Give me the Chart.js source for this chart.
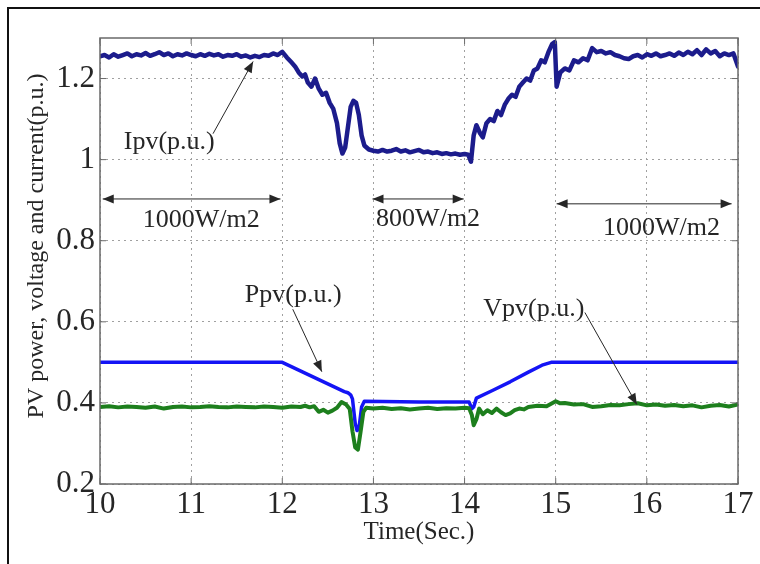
<!DOCTYPE html>
<html><head><meta charset="utf-8">
<script src="https://cdn.jsdelivr.net/npm/chart.js@4"></script>
<style>html,body{margin:0;padding:0;background:#fff}</style>
</head><body>
<canvas id="c" width="760" height="564"></canvas>
<script>
const xTicks = [10,11,12,13,14,15,16,17];
const yTicks = [0.2,0.4,0.6,0.8,1,1.2];

const ipvTime = [10.00,10.05,10.10,10.15,10.20,10.25,10.30,10.35,10.40,10.45,10.50,10.55,10.60,10.65,10.70,10.75,10.80,10.85,10.90,10.95,
 11.00,11.05,11.10,11.15,11.20,11.25,11.30,11.35,11.40,11.45,11.50,11.55,11.60,11.65,11.70,11.75,11.80,11.85,11.90,11.95,
 12.00,12.05,12.10,12.14,12.18,12.22,12.25,12.28,12.32,12.36,12.40,12.44,12.48,12.52,12.56,12.60,12.63,12.66,12.69,12.72,12.75,12.78,12.81,12.84,12.87,12.90,12.95,
 13.00,13.05,13.10,13.15,13.20,13.25,13.30,13.35,13.40,13.45,13.50,13.55,13.60,13.65,13.70,13.75,13.80,13.85,13.90,13.95,
 14.00,14.04,14.07,14.10,14.13,14.17,14.20,14.24,14.28,14.32,14.36,14.40,14.44,14.48,14.52,14.56,14.60,14.64,14.68,14.72,14.76,14.80,14.84,14.88,14.92,14.96,14.99,
 15.01,15.05,15.10,15.15,15.20,15.25,15.30,15.35,15.40,15.45,15.50,15.55,15.60,15.65,15.70,15.75,15.80,15.85,15.90,15.95,
 16.00,16.05,16.10,16.15,16.20,16.25,16.30,16.35,16.40,16.45,16.50,16.55,16.60,16.65,16.70,16.75,16.80,16.85,16.90,16.95,17.00];
const ipv = [1.255,1.258,1.252,1.260,1.254,1.258,1.262,1.255,1.260,1.257,1.263,1.256,1.260,1.265,1.258,1.262,1.255,1.260,1.257,1.262,
 1.258,1.255,1.260,1.256,1.261,1.257,1.260,1.254,1.258,1.256,1.260,1.254,1.257,1.252,1.256,1.253,1.258,1.256,1.262,1.258,
 1.266,1.252,1.240,1.230,1.215,1.205,1.210,1.190,1.180,1.200,1.175,1.160,1.165,1.140,1.125,1.090,1.040,1.015,1.030,1.080,1.130,1.145,1.140,1.110,1.060,1.035,1.025,
 1.022,1.020,1.024,1.020,1.022,1.026,1.020,1.023,1.018,1.021,1.024,1.018,1.020,1.016,1.018,1.014,1.016,1.013,1.015,1.012,
 1.014,1.012,0.995,1.060,1.085,1.065,1.055,1.090,1.100,1.095,1.120,1.110,1.135,1.150,1.160,1.155,1.180,1.190,1.200,1.195,1.220,1.225,1.245,1.240,1.265,1.285,1.290,
 1.180,1.215,1.225,1.220,1.245,1.240,1.250,1.245,1.275,1.265,1.268,1.262,1.265,1.258,1.255,1.250,1.248,1.255,1.258,1.252,
 1.260,1.256,1.262,1.255,1.258,1.262,1.256,1.264,1.258,1.266,1.260,1.270,1.258,1.272,1.262,1.268,1.255,1.262,1.258,1.262,1.230];

const ppvTime = [10.0,12.0,12.68,12.72,12.75,12.77,12.80,12.82,12.84,12.87,12.90,13.5,14.05,14.08,14.10,14.13,14.3,14.5,14.7,14.85,14.95,15.0,17.0];
const ppv = [0.500,0.500,0.428,0.425,0.420,0.410,0.350,0.332,0.335,0.390,0.404,0.402,0.402,0.386,0.390,0.412,0.430,0.452,0.476,0.493,0.500,0.500,0.500];

const vpvTime = [10.0,10.1,10.2,10.3,10.4,10.5,10.6,10.7,10.8,10.9,11.0,11.1,11.2,11.3,11.4,11.5,11.6,11.7,11.8,11.9,
 12.0,12.1,12.2,12.25,12.3,12.35,12.4,12.45,12.5,12.55,12.6,12.65,12.7,12.74,12.77,12.8,12.83,12.86,12.89,12.92,
 13.0,13.1,13.2,13.3,13.4,13.5,13.6,13.7,13.8,13.9,14.0,14.05,14.08,14.1,14.13,14.16,14.2,14.25,14.3,14.35,14.4,14.45,14.5,14.55,14.6,14.65,14.7,14.8,14.9,14.95,
 15.0,15.05,15.1,15.2,15.3,15.4,15.5,15.6,15.7,15.8,15.9,16.0,16.1,16.2,16.3,16.4,16.5,16.6,16.7,16.8,16.9,17.0];
const vpv = [0.390,0.392,0.389,0.391,0.390,0.388,0.391,0.386,0.390,0.391,0.389,0.390,0.392,0.390,0.389,0.391,0.390,0.389,0.391,0.390,
 0.388,0.391,0.390,0.393,0.389,0.392,0.378,0.383,0.376,0.381,0.388,0.402,0.396,0.385,0.330,0.290,0.285,0.330,0.378,0.388,
 0.386,0.388,0.385,0.387,0.384,0.386,0.388,0.385,0.387,0.386,0.388,0.387,0.370,0.345,0.360,0.386,0.372,0.382,0.375,0.386,0.377,0.370,0.374,0.382,0.386,0.384,0.390,0.393,0.392,0.398,
 0.404,0.399,0.400,0.396,0.397,0.390,0.392,0.395,0.394,0.397,0.399,0.394,0.396,0.393,0.395,0.392,0.394,0.389,0.393,0.395,0.391,0.396];

// annotation texts (data coordinates)
const noteText = ['Ipv(p.u.)','1000W/m2','800W/m2','1000W/m2','Ppv(p.u.)','Vpv(p.u.)'];
const noteX = [10.76, 11.11, 13.60, 16.16, 12.12, 14.76];
const noteY = [1.044, 0.851, 0.852, 0.831, 0.665, 0.631];
// single arrows: from (x0,y0) to head at (x1,y1)
const arrowFrom = [[11.24,1.064],[12.115,0.631],[15.32,0.623]];
const arrowTo   = [[11.68,1.242],[12.434,0.477],[15.89,0.396]];
// double arrows: [xStart, xEnd, y]
const spanArrows = [[10.03,11.98,0.903],[12.99,13.99,0.903],[15.01,16.93,0.891]];

const serif = "'Liberation Serif','Times New Roman',serif";
const pts = (t, v) => t.map((x, i) => ({x, y: v[i]}));

function head(ctx, x0, y0, x1, y1) {
  const a = Math.atan2(y1 - y0, x1 - x0), L = 11, W = 4.5;
  ctx.beginPath();
  ctx.moveTo(x1, y1);
  ctx.lineTo(x1 - L*Math.cos(a) + W*Math.sin(a), y1 - L*Math.sin(a) - W*Math.cos(a));
  ctx.lineTo(x1 - L*Math.cos(a) - W*Math.sin(a), y1 - L*Math.sin(a) + W*Math.cos(a));
  ctx.closePath(); ctx.fill();
}

const decor = {
  id: 'decor',
  beforeDraw(chart) {
    const ctx = chart.ctx;
    ctx.save();
    ctx.fillStyle = '#fff';
    ctx.fillRect(0, 0, chart.width, chart.height);
    ctx.restore();
  },
  afterDatasetsDraw(chart) {
    const {ctx, chartArea: a, scales: {x, y}} = chart;
    ctx.save();
    // axes box
    ctx.strokeStyle = '#6a6a6a'; ctx.lineWidth = 1.5;
    ctx.strokeRect(a.left, a.top, a.right - a.left, a.bottom - a.top);
    // inward ticks
    ctx.lineWidth = 1;
    ctx.beginPath();
    xTicks.forEach(v => { const p = x.getPixelForValue(v);
      ctx.moveTo(p, a.bottom); ctx.lineTo(p, a.bottom - 6);
      ctx.moveTo(p, a.top); ctx.lineTo(p, a.top + 6); });
    yTicks.forEach(v => { const p = y.getPixelForValue(v);
      ctx.moveTo(a.left, p); ctx.lineTo(a.left + 6, p);
      ctx.moveTo(a.right, p); ctx.lineTo(a.right - 6, p); });
    ctx.stroke();
    // annotations
    ctx.fillStyle = '#262626'; ctx.strokeStyle = '#262626'; ctx.lineWidth = 1;
    ctx.font = '26px ' + serif; ctx.textAlign = 'center'; ctx.textBaseline = 'middle';
    noteText.forEach((t, i) => ctx.fillText(t, x.getPixelForValue(noteX[i]), y.getPixelForValue(noteY[i])));
    arrowFrom.forEach((f, i) => {
      const x0 = x.getPixelForValue(f[0]), y0 = y.getPixelForValue(f[1]);
      const x1 = x.getPixelForValue(arrowTo[i][0]), y1 = y.getPixelForValue(arrowTo[i][1]);
      ctx.beginPath(); ctx.moveTo(x0, y0); ctx.lineTo(x1, y1); ctx.stroke();
      head(ctx, x0, y0, x1, y1);
    });
    spanArrows.forEach(s => {
      const x0 = x.getPixelForValue(s[0]), x1 = x.getPixelForValue(s[1]), py = y.getPixelForValue(s[2]);
      ctx.beginPath(); ctx.moveTo(x0, py); ctx.lineTo(x1, py); ctx.stroke();
      head(ctx, x0, py, x1, py); head(ctx, x1, py, x0, py);
    });
    // y title
    ctx.save();
    ctx.translate(37, (a.top + a.bottom) / 2 - 15);
    ctx.rotate(-Math.PI / 2);
    ctx.font = '24px ' + serif;
    ctx.fillText('PV power, voltage and current(p.u.)', 0, 0);
    ctx.restore();
    // outer frame
    ctx.strokeStyle = '#111'; ctx.lineWidth = 2;
    ctx.beginPath(); ctx.moveTo(8, chart.height + 5); ctx.lineTo(8, 8); ctx.lineTo(chart.width + 5, 8); ctx.stroke();
    ctx.restore();
  }
};

new Chart(document.getElementById('c'), {
  type: 'line',
  data: {
    datasets: [
      {label: 'Vpv', data: pts(vpvTime, vpv), borderColor: '#1d7f1d', borderWidth: 4, order: 0},
      {label: 'Ppv', data: pts(ppvTime, ppv), borderColor: '#1414f5', borderWidth: 3.5, order: 1},
      {label: 'Ipv', data: pts(ipvTime, ipv), borderColor: '#1c1c8c', borderWidth: 4.5, order: 2}
    ]
  },
  options: {
    responsive: false,
    animation: false,
    events: [],
    elements: {point: {radius: 0}, line: {tension: 0, borderJoinStyle: 'round', borderCapStyle: 'round'}},
    layout: {padding: {top: 38, right: 22, left: 0, bottom: 0}},
    plugins: {legend: {display: false}, tooltip: {enabled: false}},
    scales: {
      x: {
        type: 'linear', min: 10, max: 17,
        afterBuildTicks: s => { s.ticks = xTicks.map(v => ({value: v})); },
        afterFit: s => { s.height = 80; },
        grid: {color: '#a0a0a0', lineWidth: 1, drawTicks: false},
        border: {display: false, dash: [2, 4]},
        ticks: {color: '#262626', padding: 2, maxRotation: 0, font: {family: serif, size: 31},
                callback: v => String(v)},
        title: {display: true, text: 'Time(Sec.)', color: '#262626', font: {family: serif, size: 25},
                padding: {top: 0, bottom: 17}}
      },
      y: {
        type: 'linear', min: 0.2, max: 1.3,
        afterBuildTicks: s => { s.ticks = yTicks.map(v => ({value: v})); },
        afterFit: s => { s.width = 100; },
        grid: {color: '#a0a0a0', lineWidth: 1, drawTicks: false},
        border: {display: false, dash: [2, 4]},
        ticks: {color: '#262626', padding: 5, font: {family: serif, size: 31},
                callback: v => String(Number(v.toFixed(1)))}
      }
    }
  },
  plugins: [decor]
});
</script>
</body></html>
